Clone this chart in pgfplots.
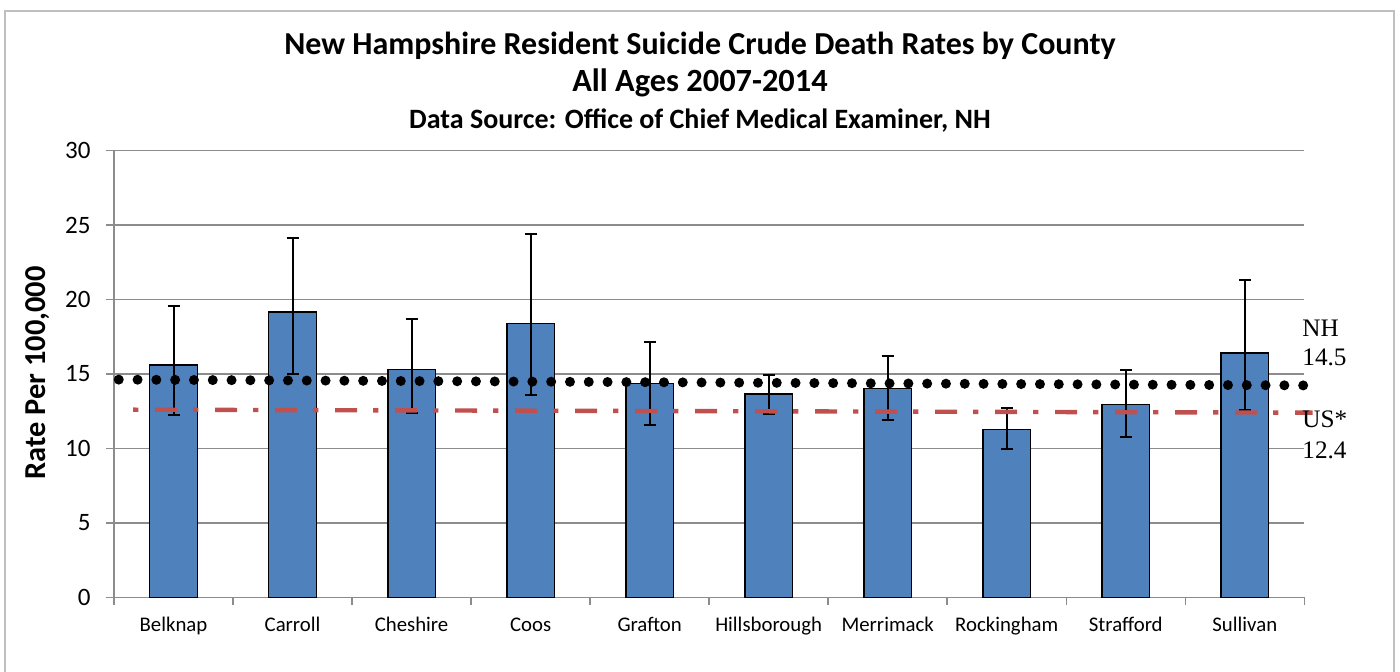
\documentclass[border=0pt]{standalone}
\usepackage{pgfplots}
\pgfplotsset{compat=1.18}
\usepackage{fontspec}
\setmainfont{Carlito}
\newfontfamily\serif{Liberation Serif}
\definecolor{barblue}{HTML}{4F81BD}
\definecolor{usred}{HTML}{C0504D}
\definecolor{gridgray}{HTML}{8C8C8C}
\definecolor{framegray}{HTML}{BFBFBF}
\begin{document}
\begin{tikzpicture}
\useasboundingbox (0,0) rectangle (700pt,335.5pt);
\draw[framegray, line width=1pt] (2.5pt,-5pt) rectangle (697pt,330pt);
\node[anchor=base, font=\bfseries\fontsize{16}{19}\selectfont] at (350pt,308.3pt) {New Hampshire Resident Suicide Crude Death Rates by County};
\node[anchor=base, font=\bfseries\fontsize{16.2}{19}\selectfont] at (350pt,290pt) {All Ages 2007-2014};
\node[anchor=base, font=\bfseries\fontsize{14}{17}\selectfont] at (350pt,271.35pt) {Data Source: Office of Chief Medical Examiner, NH};
\node[rotate=90, anchor=base, font=\bfseries\fontsize{15.2}{18}\selectfont] at (22.65pt,149pt) {Rate Per 100,000};
\begin{axis}[
  at={(57pt,36.85pt)}, anchor=south west,
  scale only axis, width=595.15pt, height=223.35pt,
  xmin=-0.5, xmax=9.5, ymin=0, ymax=30,
  ytick={0,5,10,15,20,25,30},
  xtick={-0.5,0.5,1.5,2.5,3.5,4.5,5.5,6.5,7.5,8.5,9.5},
  x tick label as interval,
  xticklabels={Belknap,Carroll,Cheshire,Coos,Grafton,Hillsborough,Merrimack,Rockingham,Strafford,Sullivan},
  axis lines*=left,
  axis line style={gridgray, line width=0.75pt, -},
  ymajorgrids, grid style={gridgray, line width=0.75pt},
  tick style={gridgray, line width=0.75pt},
  tick align=outside, major tick length=3.8pt,
  /pgf/number format/assume math mode=true,
  yticklabel style={font=\fontsize{12.5}{14}\selectfont, anchor=east, xshift=-4.4pt},
  xticklabel style={font=\fontsize{10.4}{12}\selectfont, anchor=base, yshift=-13.5pt},
  clip=false,
]
\addplot[ybar, bar width=23.8pt, fill=barblue, draw=black, line width=0.75pt,
  error bars/.cd, y dir=both, y explicit,
  error bar style={black, line width=1pt},
  error mark options={rotate=90, black, line width=1pt, mark size=3pt}]
coordinates {
  (0,15.60) += (0,3.96) -= (0,3.34)
  (1,19.16) += (0,4.94) -= (0,4.14)
  (2,15.29) += (0,3.42) -= (0,2.93)
  (3,18.40) += (0,5.98) -= (0,4.84)
  (4,14.35) += (0,2.78) -= (0,2.80)
  (5,13.65) += (0,1.26) -= (0,1.32)
  (6,14.04) += (0,2.15) -= (0,2.13)
  (7,11.28) += (0,1.42) -= (0,1.30)
  (8,12.96) += (0,2.29) -= (0,2.20)
  (9,16.40) += (0,4.90) -= (0,3.80)
};
\addplot[black, line width=5pt, line cap=round, dash pattern=on 0pt off 9.4pt]
coordinates {(-0.46,14.62) (9.5,14.23)};
\addplot[usred, line width=2.2pt, dash pattern=on 2.7pt off 8.3pt on 11pt off 8pt]
coordinates {(-0.34,12.60) (9.57,12.40)};
\end{axis}
\node[anchor=base west, font=\serif\fontsize{12.6}{15}\selectfont, inner sep=0pt] at (651pt,167.5pt) {NH};
\node[anchor=base west, font=\serif\fontsize{12.6}{15}\selectfont, inner sep=0pt] at (651pt,152.6pt) {14.5};
\node[anchor=base west, font=\serif\fontsize{12.6}{15}\selectfont, inner sep=0pt] at (651pt,121.7pt) {US*};
\node[anchor=base west, font=\serif\fontsize{12.6}{15}\selectfont, inner sep=0pt] at (651pt,106.2pt) {12.4};
\end{tikzpicture}
\end{document}
